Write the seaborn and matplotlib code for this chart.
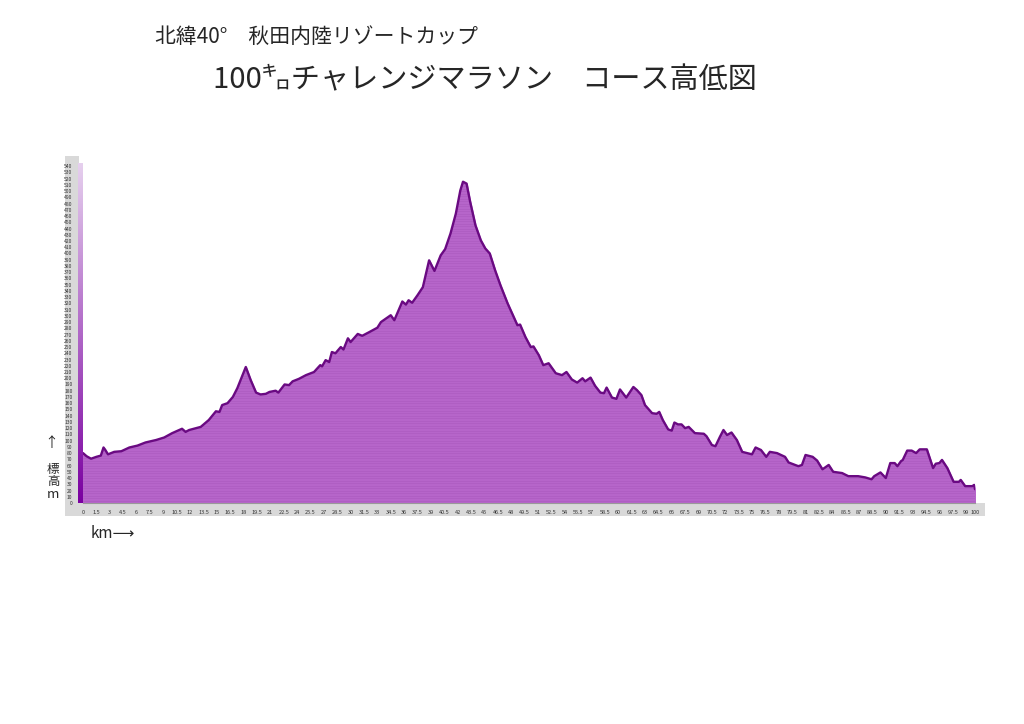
import numpy as np
import pandas as pd
import matplotlib
matplotlib.use("Agg")
import matplotlib.pyplot as plt
import seaborn as sns
from matplotlib.patches import Rectangle

# --- datos del perfil (km, altitud m) ---
km = [0.0, 0.4, 0.9, 1.5, 2.0, 2.3, 2.5, 2.8, 3.5, 4.3, 5.2, 6.1, 7.0, 8.2, 9.1,
      10.0, 11.1, 11.5, 11.9, 13.2, 14.1, 14.9, 15.3, 15.6, 16.2, 16.8, 17.3, 17.8,
      18.25, 18.8, 19.4, 19.9, 20.5, 20.9, 21.6, 21.9, 22.6, 23.1, 23.5, 24.2, 25.0,
      25.9, 26.6, 26.8, 27.2, 27.6, 27.9, 28.3, 28.9, 29.2, 29.7, 30.0, 30.8, 31.3,
      32.1, 33.0, 33.4, 34.5, 34.9, 35.8, 36.2, 36.5, 36.9, 37.5, 38.1, 38.8, 39.4,
      40.1, 40.6, 41.2, 41.8, 42.3, 42.6, 43.0, 43.4, 44.0, 44.6, 45.1, 45.6, 46.2,
      46.8, 47.6, 48.3, 48.7, 49.0, 49.6, 50.2, 50.5, 51.1, 51.6, 52.2, 53.0, 53.7,
      54.2, 54.8, 55.4, 56.0, 56.3, 56.9, 57.4, 58.0, 58.4, 58.7, 59.3, 59.8, 60.2,
      60.9, 61.7, 62.1, 62.6, 63.0, 63.8, 64.3, 64.6, 65.0, 65.6, 66.0, 66.3, 66.7,
      67.1, 67.5, 67.9, 68.6, 69.6, 69.9, 70.5, 70.9, 71.4, 71.8, 72.2, 72.7, 73.3,
      73.9, 75.0, 75.4, 76.0, 76.6, 77.0, 77.8, 78.7, 79.1, 80.2, 80.6, 81.0, 81.8,
      82.3, 82.9, 83.6, 84.1, 85.1, 85.8, 86.9, 87.7, 88.4, 88.7, 89.4, 90.0, 90.5,
      91.0, 91.3, 91.7, 91.9, 92.4, 92.9, 93.4, 93.8, 94.6, 95.3, 95.6, 96.0, 96.3,
      96.9, 97.6, 98.2, 98.4, 98.9, 99.7, 99.9, 100.0]
altitud = [80, 75, 71, 74, 76, 89, 85, 78, 82, 83, 89, 92, 97, 101, 105,
           112, 119, 114, 117, 122, 133, 147, 146, 157, 160, 170, 184, 202,
           218, 197, 177, 174, 175, 178, 180, 177, 190, 189, 195, 199, 205,
           210, 221, 219, 229, 226, 242, 240, 250, 246, 264, 258, 271, 268,
           274, 281, 290, 301, 293, 323, 318, 325, 321, 333, 346, 389, 372,
           397, 407, 432, 464, 501, 515, 512, 483, 445, 421, 408, 400, 373,
           349, 320, 298, 285, 286, 266, 250, 251, 237, 221, 224, 208, 205,
           210, 198, 193, 200, 195, 201, 188, 177, 176, 185, 169, 167, 182,
           169, 186, 181, 173, 157, 144, 143, 146, 133, 118, 116, 129, 126,
           126, 120, 122, 112, 111, 107, 93, 91, 106, 117, 109, 113, 101,
           82, 78, 89, 85, 74, 82, 80, 74, 65, 59, 61, 77, 74,
           68, 54, 61, 50, 48, 43, 43, 41, 38, 43, 49, 40, 64,
           64, 59, 67, 69, 84, 84, 80, 86, 86, 56, 63, 64, 69,
           56, 34, 34, 37, 27, 27, 29, 22]

x_ticks = list(np.arange(0, 100, 1.5)) + [100]
y_ticks = list(range(0, 550, 10))

titulo1 = "北緯40°　秋田内陸リゾートカップ"
titulo2 = "100㌔チャレンジマラソン　コース高低図"

perfil = pd.DataFrame({"km": km, "altitud": altitud})

sns.set_style("white")
plt.rcParams['font.family'] = ['Noto Sans CJK JP', 'DejaVu Sans']

fig = plt.figure(figsize=(10.24, 7.24), dpi=100)
fig.patch.set_facecolor("white")

# franjas grises de las etiquetas (izquierda y abajo)
gris = "#d9d9d9"
fig.patches.append(Rectangle((65 / 1024, 1 - 516 / 724), 920 / 1024, 13 / 724,
                             transform=fig.transFigure, facecolor=gris,
                             edgecolor="none", zorder=-10))
fig.patches.append(Rectangle((65 / 1024, 1 - 516 / 724), 14 / 1024, 360 / 724,
                             transform=fig.transFigure, facecolor=gris,
                             edgecolor="none", zorder=-10))

izq, abajo = 83 / 1024, 1 - 503 / 724
ancho, alto = 892 / 1024, 340 / 724
ax = fig.add_axes([izq, abajo, ancho, alto])
ax.set_facecolor("none")

relleno = ax.fill_between(perfil.km, perfil.altitud, 0, color="#b665ca", zorder=1)
sns.lineplot(data=perfil, x="km", y="altitud", ax=ax, color="#6a0a82",
             linewidth=1.7, zorder=3)

# rayas horizontales suaves dentro del relleno
for yy in range(0, 520, 4):
    ln = ax.axhline(yy, color="#a453b8", linewidth=0.5, alpha=0.5, zorder=2)
    ln.set_clip_path(relleno.get_paths()[0], ax.transData)

ax.set_xlim(0, 100)
ax.set_ylim(0, 545)
ax.set_xticks(x_ticks)
ax.set_xticklabels([f"{t:g}" for t in x_ticks], fontsize=4, color="#333333")
ax.tick_params(axis="x", direction="out", length=3, width=0.6, color="#555555", pad=2)
ax.set_yticks([])
ax.set_xlabel("")
ax.set_ylabel("")
for s in ["top", "right", "left"]:
    ax.spines[s].set_visible(False)
ax.spines["bottom"].set_color("#999999")

# barra vertical morada del eje Y con degradado
ax_eje = fig.add_axes([78 / 1024, abajo, 5 / 1024, alto])
grad = np.linspace(1, 0, 256).reshape(-1, 1)
cmap = matplotlib.colors.LinearSegmentedColormap.from_list("eje", ["#7a00a0", "#e6d0ee"])
ax_eje.imshow(grad, aspect="auto", cmap=cmap, extent=(0, 1, 0, 545), origin="upper")
ax_eje.set_ylim(0, 545)
ax_eje.set_xticks([])
ax_eje.set_yticks(y_ticks)
ax_eje.set_yticklabels([str(t) for t in y_ticks], fontsize=3.6, color="#333333")
ax_eje.tick_params(axis="y", direction="out", length=3, width=0.6, color="#444444", pad=1)
for s in ax_eje.spines.values():
    s.set_visible(False)

# títulos
fig.text(155 / 1024, 1 - 37 / 724, titulo1, fontsize=15, va="center", ha="left")
fig.text(213 / 1024, 1 - 80 / 724, titulo2, fontsize=21, va="center", ha="left")

# etiquetas de los ejes
fig.text(51 / 1024, 1 - 443 / 724, "↑", fontsize=10, ha="center", va="center")
fig.text(53 / 1024, 1 - 469 / 724, "標", fontsize=9, ha="center", va="center")
fig.text(53 / 1024, 1 - 481 / 724, "高", fontsize=9, ha="center", va="center")
fig.text(53 / 1024, 1 - 494 / 724, "m", fontsize=9.5, ha="center", va="center")
fig.text(91 / 1024, 1 - 534 / 724, "km⟶", fontsize=11, ha="left", va="center")

plt.savefig("out.png", dpi=100)
plt.close()
